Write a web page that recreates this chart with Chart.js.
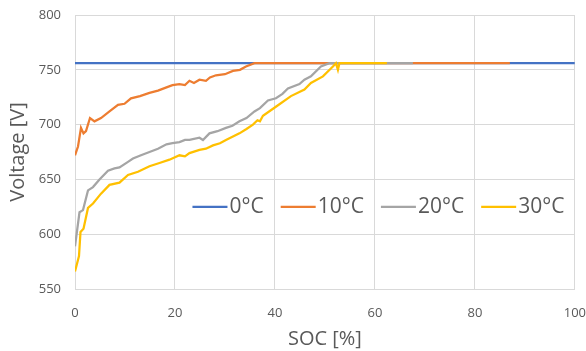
<!DOCTYPE html>
<html lang="en">
<head>
    <meta charset="UTF-8">
    <title>Voltage vs SOC</title>
    <script src="https://cdn.jsdelivr.net/npm/chart.js"></script>
    <style>
        body { margin: 0; background: #fff; }
        .chart-container { width: 586px; height: 351px; }
    </style>
</head>
<body>
    <div class="chart-container"><canvas id="socChart"></canvas></div>

    <script>
        // Series (SOC in %, voltage in V)
        const labels = ['0°C', '10°C', '20°C', '30°C'];
        const colors = ['#4472C4', '#ED7D31', '#A5A5A5', '#FFC000'];

        const soc0  = [0, 100];
        const volt0 = [756, 756];

        const soc10  = [0, 0.6, 1.2, 1.7, 2.2, 3.0, 3.9, 5.2, 6.9, 8.6, 9.9, 11.2, 13.0, 14.9, 16.6, 18.3, 19.5, 20.9, 22.0, 22.9, 23.8, 24.9, 26.2, 27.0, 28.2, 30.0, 31.6, 33.0, 34.2, 35.9, 87];
        const volt10 = [672, 680, 697, 692, 694, 706, 703, 706, 712, 718, 719, 724, 726, 729, 731, 734, 736, 737, 736, 740, 738, 741, 740, 743, 745, 746, 749, 750, 753, 756, 756];

        const soc20  = [0, 0.9, 1.6, 2.6, 3.6, 4.9, 6.6, 7.9, 8.9, 10.6, 11.6, 13.2, 14.9, 16.6, 18.3, 19.5, 20.9, 22.0, 22.9, 24.9, 25.6, 26.9, 28.5, 30.2, 31.5, 32.9, 34.3, 35.9, 37.0, 38.6, 40.2, 41.5, 42.6, 44.9, 45.9, 47.2, 49.2, 50.9, 67.6];
        const volt20 = [589, 620, 622, 640, 643, 650, 658, 660, 661, 666, 669, 672, 675, 678, 682, 683, 684, 686, 686, 688, 686, 692, 694, 697, 699, 703, 706, 712, 715, 722, 724, 728, 733, 737, 741, 744, 753, 756, 756];

        const soc30  = [0, 0.8, 1.1, 1.7, 2.6, 3.6, 5.2, 6.9, 8.9, 10.6, 12.6, 14.9, 16.9, 18.9, 20.9, 22.0, 22.9, 24.9, 26.2, 27.6, 29.0, 30.2, 32.9, 34.3, 35.6, 36.5, 37.0, 37.6, 40.4, 43.2, 45.9, 47.2, 49.6, 51.6, 52.2, 52.6, 52.9, 62.4];
        const volt30 = [566, 580, 602, 605, 624, 628, 637, 645, 647, 654, 657, 662, 665, 668, 672, 671, 674, 677, 678, 681, 683, 686, 692, 696, 700, 704, 703, 708, 717, 726, 732, 738, 744, 753, 756, 750, 756, 756];

        const xTicks = [0, 20, 40, 60, 80, 100];
        const yTicks = [550, 600, 650, 700, 750, 800];

        const seriesX = [soc0, soc10, soc20, soc30];
        const seriesY = [volt0, volt10, volt20, volt30];

        const textColor = '#595959';
        const gridColor = '#d9d9d9';
        const fontFamily = "'Open Sans', sans-serif";

        const datasets = labels.map((label, i) => ({
            label: label,
            data: seriesX[i].map((x, j) => ({ x: x, y: seriesY[i][j] })),
            borderColor: colors[i],
            backgroundColor: colors[i],
            borderWidth: 2.25,
            pointRadius: 0,
            pointHoverRadius: 0,
            fill: false,
            tension: 0,
            order: labels.length - i   // later series drawn on top, like Excel
        }));

        // legend drawn inside the plot area
        const insideLegend = {
            id: 'insideLegend',
            afterDatasetsDraw(chart) {
                const ctx = chart.ctx;
                const area = chart.chartArea;
                let x = area.left + area.width * 0.235;
                const y = area.top + area.height * 0.70;
                ctx.save();
                ctx.font = '21px ' + fontFamily;
                ctx.textBaseline = 'middle';
                chart.data.datasets.forEach(ds => {
                    ctx.strokeStyle = ds.borderColor;
                    ctx.lineWidth = 2.25;
                    ctx.beginPath();
                    ctx.moveTo(x, y);
                    ctx.lineTo(x + 35, y);
                    ctx.stroke();
                    ctx.fillStyle = textColor;
                    ctx.fillText(ds.label, x + 37, y);
                    x += 37 + ctx.measureText(ds.label).width + 17;
                });
                ctx.restore();
            }
        };

        new Chart(document.getElementById('socChart').getContext('2d'), {
            type: 'line',
            data: { datasets: datasets },
            plugins: [insideLegend],
            options: {
                responsive: true,
                maintainAspectRatio: false,
                animation: false,
                layout: { autoPadding: false, padding: { top: 15, right: 0, left: 0, bottom: 0 } },
                plugins: {
                    legend: { display: false },
                    tooltip: { enabled: false }
                },
                scales: {
                    x: {
                        type: 'linear',
                        min: xTicks[0],
                        max: xTicks[xTicks.length - 1],
                        afterBuildTicks: s => { s.ticks = xTicks.map(v => ({ value: v })); },
                        ticks: { color: textColor, font: { family: fontFamily, size: 13 }, padding: 0, maxRotation: 0 },
                        // invisible tick marks give the gap between axis and labels
                        grid: { color: gridColor, lineWidth: 1, drawTicks: true, tickLength: 16, tickColor: 'rgba(0,0,0,0)' },
                        border: { color: gridColor },
                        title: { display: true, text: 'SOC [%]', color: textColor, font: { family: fontFamily, size: 20 }, padding: { top: 2, bottom: 0 } },
                        afterFit: s => { s.height = 62; }
                    },
                    y: {
                        min: yTicks[0],
                        max: yTicks[yTicks.length - 1],
                        afterBuildTicks: s => { s.ticks = yTicks.map(v => ({ value: v })); },
                        ticks: { color: textColor, font: { family: fontFamily, size: 13 }, padding: 0 },
                        grid: { color: gridColor, lineWidth: 1, drawTicks: true, tickLength: 14, tickColor: 'rgba(0,0,0,0)' },
                        border: { color: gridColor },
                        title: { display: true, text: 'Voltage [V]', color: textColor, font: { family: fontFamily, size: 20 }, padding: { top: 6, bottom: 6 } },
                        afterFit: s => { s.width = 75; }
                    }
                }
            }
        });
    </script>
</body>
</html>
